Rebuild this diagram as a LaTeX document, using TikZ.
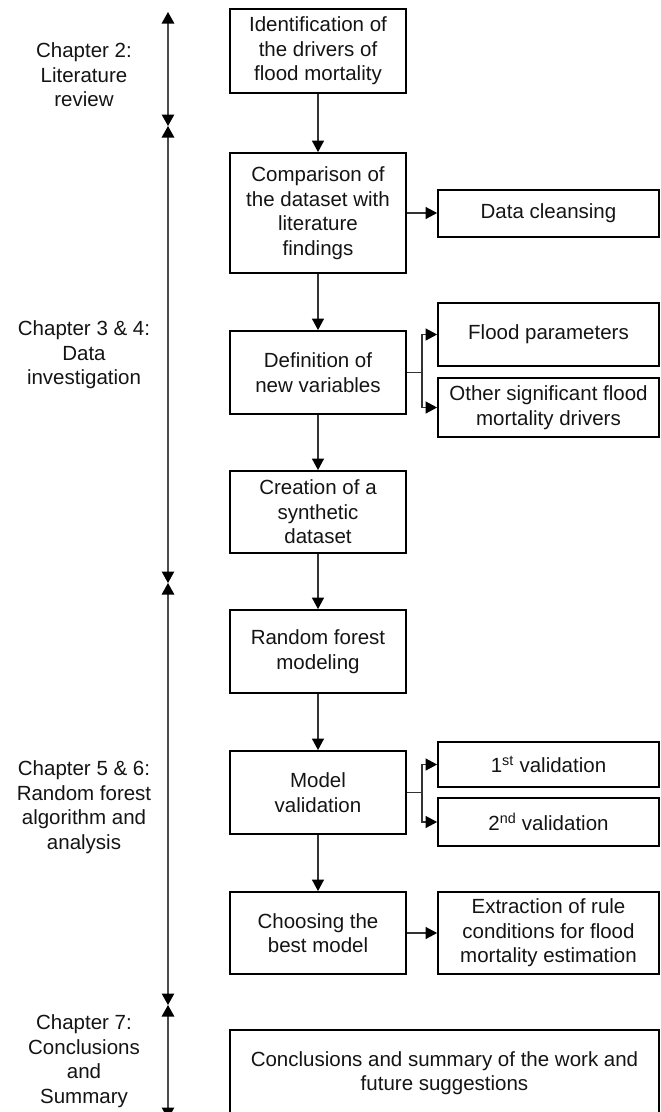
\documentclass[tikz,border=0pt]{standalone}
\usepackage{fontspec}
\setmainfont{Liberation Sans}
\usetikzlibrary{arrows.meta}
\begin{document}
\begin{tikzpicture}[x=1pt,y=-1pt,
  every node/.style={font=\fontsize{20.5}{24.5}\selectfont, text=black!92},
  box/.style={draw=black, line width=1.8pt, align=center, inner sep=0pt, minimum width=176pt},
  sidebox/.style={draw=black, line width=1.8pt, align=center, inner sep=0pt, minimum width=221pt},
  tip/.style={Triangle[length=11.5pt,width=12pt,color=black]},
  flow/.style={draw=black!80, line width=1.2pt, -{Triangle[length=11.5pt,width=12pt,color=black]}},
  link/.style={draw=black!80, line width=1.2pt},
  span/.style={draw=black!70, line width=1.2pt,
    {Triangle[length=11.5pt,width=12.5pt,color=black]}-{Triangle[length=11.5pt,width=12.5pt,color=black]}},
  chapter/.style={align=center, inner sep=0pt}]
\clip (0,0) rectangle (661,1112);

% main process column
\node[box, minimum height=84pt] (b1) at (318,51)    {Identification of\\the drivers of\\flood mortality};
\node[box, minimum height=120pt] (b2) at (318,213)  {Comparison of\\the dataset with\\literature\\findings};
\node[box, minimum height=83pt] (b3) at (318,372.5) {Definition of\\new variables};
\node[box, minimum height=82pt] (b4) at (318,512)   {Creation of a\\synthetic\\dataset};
\node[box, minimum height=83pt] (b5) at (318,651.5) {Random forest\\modeling};
\node[box, minimum height=83pt] (b6) at (318,792.5) {Model\\validation};
\node[box, minimum height=82pt] (b7) at (318,933)   {Choosing the\\best model};

% side outputs
\node[sidebox, minimum height=47pt] (clean) at (548.5,213.5) {Data cleansing};
\node[sidebox, minimum height=63pt] (fpar)  at (548.5,334.5) {Flood parameters};
\node[sidebox, minimum height=59pt] (oth)   at (548.5,407.5) {Other significant flood\\mortality drivers};
\node[sidebox, minimum height=45pt] (val1)  at (548.5,764.5) {1\textsuperscript{st} validation};
\node[sidebox, minimum height=48pt] (val2)  at (548.5,822)   {2\textsuperscript{nd} validation};
\node[sidebox, minimum height=82pt] (rules) at (548.5,933)   {Extraction of rule\\conditions for flood\\mortality estimation};

% closing box (runs past the lower edge)
\node[draw=black, line width=1.8pt, align=center, inner sep=0pt,
      minimum width=429pt, minimum height=86pt] (concl) at (444.5,1073)
      {Conclusions and summary of the work and\\future suggestions};

% main flow
\draw[flow] (b1) -- (b2);
\draw[flow] (b2) -- (b3);
\draw[flow] (b3) -- (b4);
\draw[flow] (b4) -- (b5);
\draw[flow] (b5) -- (b6);
\draw[flow] (b6) -- (b7);

% branches to the right
\draw[flow] (b2.east) -- (b2.east -| clean.west);
\draw[flow] (b7.east) -- (rules.west);
\coordinate (s3) at (422,372.5);
\draw[link] (b3.east) -- (s3);
\draw[flow] (s3) |- (fpar.west);
\draw[flow] (s3) |- (oth.west);
\coordinate (s6) at (422,792.5);
\draw[link] (b6.east) -- (s6);
\draw[flow] (s6) |- (val1.west);
\draw[flow] (s6) |- (val2.west);

% chapter spans
\coordinate (c0) at (168,12);
\coordinate (c1) at (168,126);
\coordinate (c2) at (168,583);
\coordinate (c3) at (168,1005);
\coordinate (c4) at (168,1119);
\draw[span] (c0) -- (c1);
\draw[span] (c1) -- (c2);
\draw[span] (c2) -- (c3);
\draw[span] (c3) -- (c4);

\node[chapter] (ch2)  at (84,75)   {Chapter 2:\\Literature\\review};
\node[chapter] (ch34) at (84,355)  {Chapter 3 \& 4:\\Data\\investigation};
\node[chapter] (ch56) at (84,807)  {Chapter 5 \& 6:\\Random forest\\algorithm and\\analysis};
\node[chapter] (ch7)  at (84,1061) {Chapter 7:\\Conclusions\\and\\Summary};
\end{tikzpicture}
\end{document}
